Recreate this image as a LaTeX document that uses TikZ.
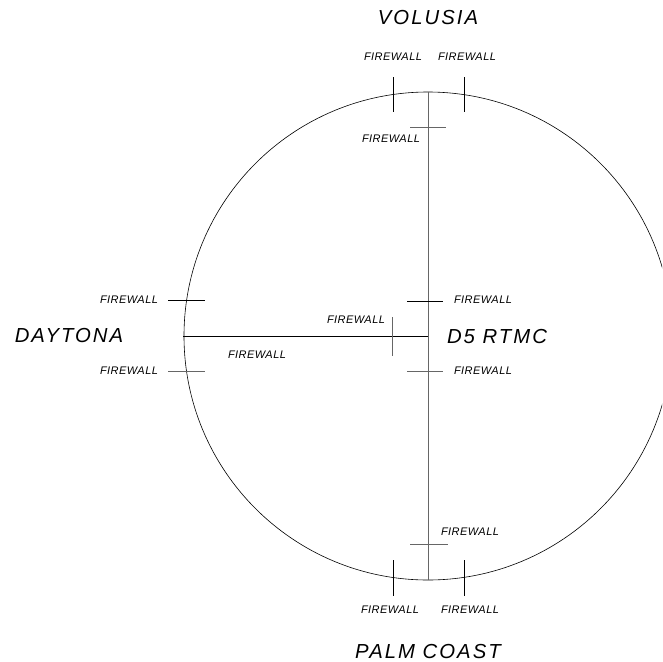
\documentclass[tikz,border=0pt]{standalone}
\usepackage{fontspec}
\newfontfamily\cadfont{Liberation Sans}[LetterSpace=10]
\newfontfamily\cadsmall{Liberation Sans}[LetterSpace=4]

\begin{document}
\begin{tikzpicture}[x=1pt,y=-1pt,
  site/.style={inner sep=0pt,font=\cadfont\itshape\fontsize{20.3}{21}\selectfont},
  fw/.style={inner sep=0pt,font=\cadsmall\itshape\fontsize{11}{12}\selectfont},
  wire/.style={line width=0.6pt},
  soft/.style={line width=0.6pt,black!60}]
\useasboundingbox (0,0) rectangle (662,662);
\clip (0,0) rectangle (662,662);
\draw[wire] (428,336) circle (244);

\path (428,18) node[site] (volusia) {VOLUSIA};
\path (69,336) node[site] (daytona) {DAYTONA};
\path (497,337) node[site] (rtmc) {D5 RTMC};
\path (428,652) node[site] (palmcoast) {PALM COAST};

\coordinate (top) at (428,92);
\coordinate (bot) at (428,580);
\coordinate (west) at (183,336);
\coordinate (hub) at (428,336);
\draw[soft] (top) -- (bot);
\draw[wire] (west) -- (hub);

\path (393,57) node[fw] (fwa) {FIREWALL};
\path (467,57) node[fw] (fwb) {FIREWALL};
\draw[wire] (393,77) -- (393,112);
\draw[wire] (464,77) -- (464,112);
\path (391,139) node[fw] (fwc) {FIREWALL};
\draw[soft] (410,127) -- (446,127);

\path (129,300) node[fw] (fwd) {FIREWALL};
\draw[wire] (168,300) -- (205,300);
\path (129,371) node[fw] (fwe) {FIREWALL};
\draw[soft] (168,371) -- (205,371);
\path (257,355) node[fw] (fwf) {FIREWALL};

\path (356,320) node[fw] (fwg) {FIREWALL};
\draw[soft] (392,317) -- (392,356);
\path (483,300) node[fw] (fwh) {FIREWALL};
\draw[wire] (407,301) -- (443,301);
\path (483,371) node[fw] (fwi) {FIREWALL};
\draw[soft] (407,371) -- (443,371);

\path (470,532) node[fw] (fwj) {FIREWALL};
\draw[soft] (410,544) -- (448,544);
\draw[wire] (393,560) -- (393,596);
\draw[wire] (464,560) -- (464,596);
\path (390,610) node[fw] (fwk) {FIREWALL};
\path (470,610) node[fw] (fwl) {FIREWALL};
\end{tikzpicture}
\end{document}
